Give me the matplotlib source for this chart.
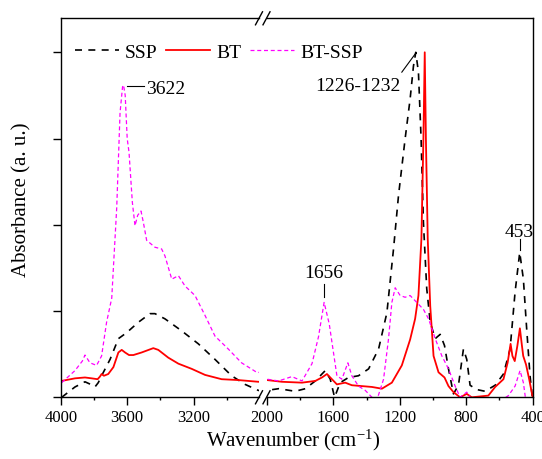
import matplotlib
matplotlib.use("Agg")
import matplotlib.pyplot as plt
from matplotlib.lines import Line2D
from matplotlib.ticker import MultipleLocator, NullFormatter

plt.rcParams["font.family"] = "Liberation Serif"
plt.rcParams["mathtext.fontset"] = "custom"
plt.rcParams["mathtext.rm"] = "Liberation Serif"
plt.rcParams["mathtext.it"] = "Liberation Serif:italic"

# SSP spectrum: wavenumber (cm-1), absorbance (a. u.)
ssp_wn = [3994, 3954, 3914, 3854, 3820, 3794, 3774, 3754, 3703, 3653, 3603,
          3533, 3463, 3433, 3373, 3272, 3172, 3072, 2972, 2891, 2811,
          2000, 1930, 1830, 1769, 1709, 1649, 1619, 1593, 1559, 1509, 1449,
          1388, 1328, 1278, 1238, 1208, 1168, 1138, 1118, 1104, 1088, 1072,
          1058, 1038, 1017, 987, 957, 931, 907, 877, 847, 817, 797, 777,
          737, 687, 626, 576, 536, 506, 478, 456, 436, 416, 402]
ssp_abs = [0.0, 0.06, 0.12, 0.18, 0.15, 0.12, 0.17, 0.25, 0.44, 0.68, 0.75,
           0.87, 0.97, 0.97, 0.91, 0.77, 0.62, 0.44, 0.25, 0.15, 0.08,
           0.08, 0.10, 0.07, 0.10, 0.19, 0.31, 0.21, 0.0, 0.17, 0.23, 0.25,
           0.33, 0.56, 0.98, 1.72, 2.34, 3.0, 3.46, 3.84, 4.0, 3.77, 3.0,
           2.03, 1.26, 0.87, 0.68, 0.73, 0.60, 0.33, 0.04, 0.14, 0.56, 0.44, 0.14,
           0.09, 0.07, 0.14, 0.27, 0.56, 1.22, 1.68, 1.37, 0.79, 0.25, 0.0]

# BT spectrum
bt_wn = [3994, 3914, 3854, 3814, 3778, 3764, 3754, 3740, 3714, 3683, 3653,
         3633, 3613, 3589, 3563, 3513, 3443, 3413, 3353, 3292, 3212, 3132,
         3032, 2932, 2811,
         2000, 1910, 1789, 1709, 1669, 1639, 1609, 1579, 1529, 1489, 1428,
         1368, 1308, 1248, 1188, 1138, 1108, 1088, 1070, 1058, 1050, 1043,
         1032, 1017, 997, 967, 931, 907, 877, 837, 817, 797, 767, 667, 626,
         576, 551, 533, 522, 508, 492, 477, 466, 457, 440, 421, 408, 400]
bt_abs = [0.19, 0.22, 0.23, 0.22, 0.21, 0.24, 0.27, 0.25, 0.27, 0.35, 0.52,
          0.55, 0.52, 0.49, 0.49, 0.52, 0.57, 0.55, 0.46, 0.39, 0.33, 0.26,
          0.21, 0.20, 0.18,
          0.20, 0.18, 0.17, 0.19, 0.23, 0.27, 0.21, 0.15, 0.17, 0.14, 0.13,
          0.12, 0.10, 0.17, 0.37, 0.67, 0.91, 1.18, 1.84, 3.0, 4.0, 3.0,
          1.84, 1.06, 0.48, 0.29, 0.23, 0.13, 0.06, 0.0, 0.02, 0.04, 0.0, 0.02, 0.12,
          0.21, 0.40, 0.62, 0.48, 0.42, 0.60, 0.80, 0.62, 0.48, 0.38, 0.21, 0.08, 0.0]

# BT-SSP spectrum
btssp_wn = [3994, 3914, 3870, 3854, 3824, 3784, 3754, 3724, 3693, 3663, 3643,
            3628, 3622, 3612, 3600, 3589, 3569, 3553, 3537, 3517, 3503, 3483,
            3433, 3393, 3373, 3332, 3292, 3252, 3192, 3132, 3072, 2992, 2912,
            2821,
            2000, 1930, 1850, 1789, 1729, 1690, 1656, 1625, 1579, 1549, 1513,
            1489, 1449, 1408, 1368, 1338, 1298, 1268, 1248, 1228, 1198, 1168,
            1138, 1098, 1058, 1027, 987, 947, 907, 867, 837, 797, 767, 700,
            600, 546, 506, 476, 456, 442, 420]
btssp_abs = [0.17, 0.31, 0.42, 0.49, 0.40, 0.37, 0.48, 0.87, 1.15, 2.2, 3.3,
             3.6, 3.62, 3.5, 3.0, 2.84, 2.26, 1.99, 2.11, 2.16, 2.03, 1.82,
             1.74, 1.72, 1.64, 1.37, 1.41, 1.29, 1.18, 0.95, 0.71, 0.56, 0.40,
             0.29,
             0.21, 0.19, 0.24, 0.19, 0.39, 0.70, 1.10, 0.85, 0.25, 0.21, 0.40,
             0.25, 0.13, 0.08, 0.0, -0.03, 0.21, 0.68, 1.10, 1.27, 1.18, 1.16,
             1.18, 1.10, 1.02, 0.91, 0.68, 0.48, 0.33, 0.13, 0.0, 0.06, -0.03, -0.05,
             -0.05, 0.02, 0.13, 0.31, 0.17, -0.03, -0.05]

fig = plt.figure(figsize=(5.42, 4.6), dpi=100)
ax1 = fig.add_axes([0.1120, 0.1341, 0.3659, 0.8239])
ax2 = fig.add_axes([0.4926, 0.1341, 0.4902, 0.8239])

styles = [
    dict(color="black", lw=1.2, dashes=(4.2, 3.8), label="SSP"),
    dict(color="#ff0000", lw=1.3, label="BT"),
    dict(color="#ff00ff", lw=0.9, dashes=(3.2, 2.2), label="BT-SSP"),
]
series = [(ssp_wn, ssp_abs), (bt_wn, bt_abs), (btssp_wn, btssp_abs)]

handles = []
for ax in (ax1, ax2):
    for (wn, ab), st in zip(series, styles):
        ln, = ax.plot(wn, ab, **st)
        if ax is ax1:
            handles.append(ln)
    ax.set_ylim(0, 4.394)
    ax.tick_params(axis="x", which="major", direction="out", length=5.5,
                   width=1.0, labelsize=12, pad=3)
    ax.tick_params(axis="x", which="minor", direction="out", length=2.4, width=1.0)
    for s in ax.spines.values():
        s.set_linewidth(1.0)

ax1.set_xlim(4000, 2807)
ax2.set_xlim(2000, 400)
ax1.xaxis.set_major_locator(MultipleLocator(400))
ax1.xaxis.set_minor_locator(MultipleLocator(200))
ax2.xaxis.set_major_locator(MultipleLocator(400))
ax2.xaxis.set_minor_locator(MultipleLocator(200))

ax1.spines["right"].set_visible(False)
ax2.spines["left"].set_visible(False)
ax1.yaxis.set_major_locator(MultipleLocator(1))
ax1.yaxis.set_major_formatter(NullFormatter())
ax1.tick_params(axis="y", direction="out", length=5.5, width=1.0)
ax2.tick_params(axis="y", left=False, right=False, labelleft=False)

# axis break marks
for xb in (259, 266.5):
    for yb in (19.3, 398.3):
        fig.add_artist(Line2D([(xb - 3.5) / 542, (xb + 3.5) / 542],
                              [1 - (yb + 6.5) / 460, 1 - (yb - 6.5) / 460],
                              color="black", lw=1.0))

# peak labels
ax1.plot([3601, 3499], [3.61, 3.61], color="black", lw=0.8)
ax1.text(3487, 3.53, "3622", fontsize=14, ha="left", va="baseline")
ax2.plot([1656, 1656], [1.31, 1.16], color="black", lw=0.8)
ax2.text(1656, 1.39, "1656", fontsize=14, ha="center", va="baseline")
ax2.plot([1188, 1104], [3.77, 3.99], color="black", lw=0.8)
ax2.text(1198, 3.56, "1226-1232", fontsize=14, ha="right", va="baseline")
ax2.plot([478, 478], [1.835, 1.71], color="black", lw=0.8)
ax2.text(480, 1.87, "453", fontsize=14, ha="center", va="baseline")

fig.legend(handles=handles, loc="upper left", bbox_to_anchor=(75 / 542, 1 - 44 / 460),
           ncol=3, frameon=False, fontsize=14, handlelength=2.27,
           handletextpad=0.3, columnspacing=0.45, borderpad=0, borderaxespad=0)

fig.text(22 / 542, 1 - 200 / 460, "Absorbance (a. u.)", rotation=90,
         ha="center", va="center", fontsize=15)
fig.text(293 / 542, 1 - 440 / 460, r"Wavenumber (cm$^{-1}$)",
         ha="center", va="center", fontsize=15)

fig.savefig("out.png", dpi=100)
